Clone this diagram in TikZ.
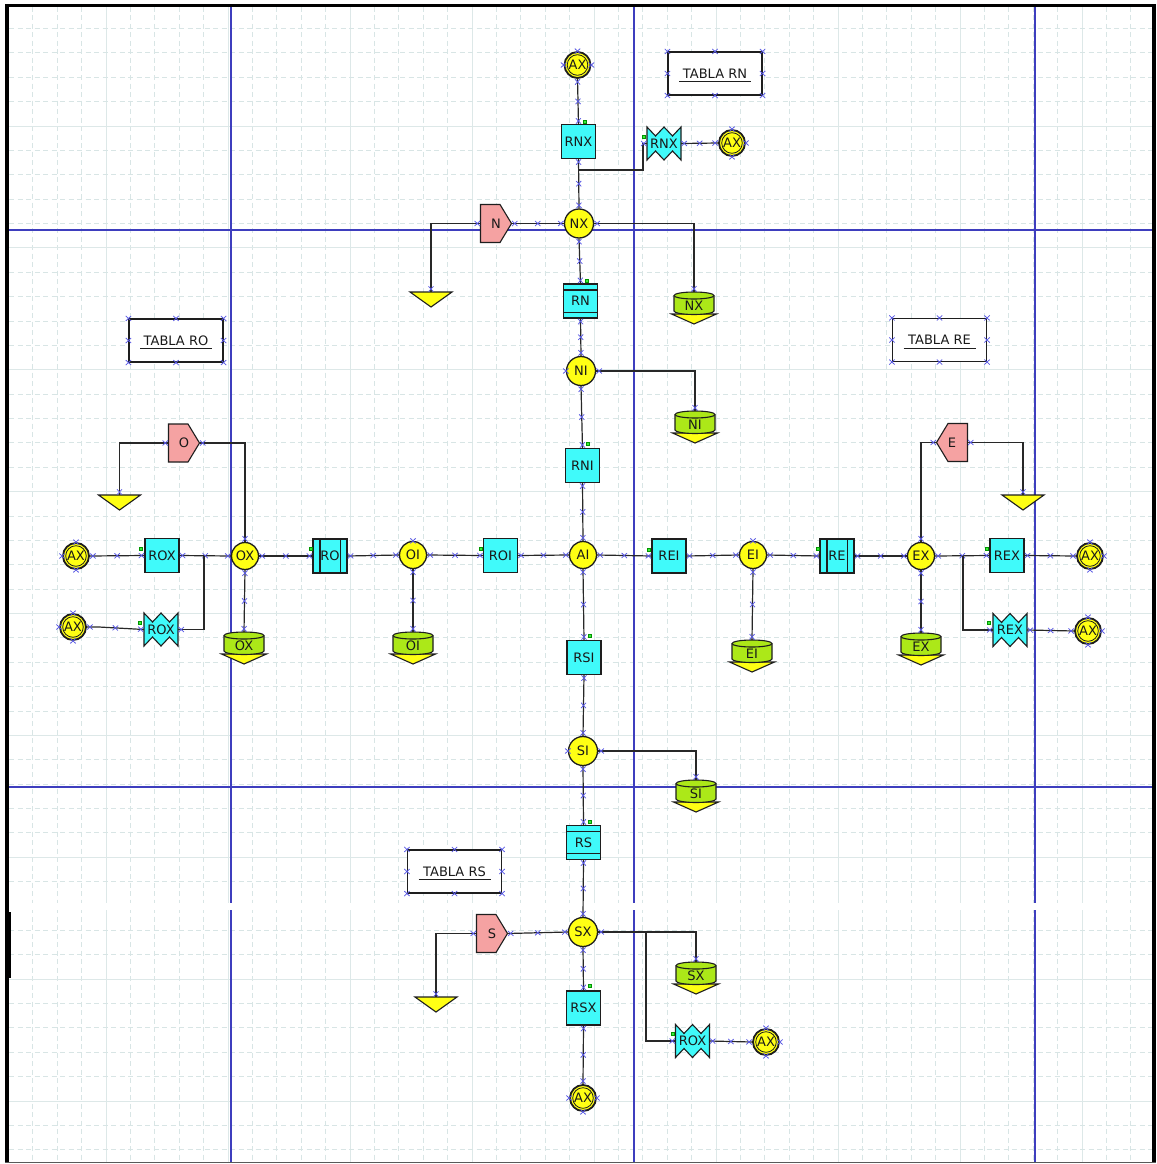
\documentclass[tikz,border=0pt]{standalone}
\usepackage{fontspec}
\setmainfont{DejaVu Sans}
\usetikzlibrary{decorations.markings}

\definecolor{gridc}{RGB}{216,229,229}
\definecolor{gridcs}{RGB}{221,232,232}
\definecolor{axisblue}{RGB}{62,62,190}
\definecolor{wirec}{RGB}{40,40,40}
\definecolor{outl}{RGB}{30,30,30}
\definecolor{txt}{RGB}{25,25,25}
\definecolor{cyn}{RGB}{64,250,250}
\definecolor{yel}{RGB}{255,255,20}
\definecolor{pnk}{RGB}{245,162,162}
\definecolor{grn}{RGB}{172,232,24}
\definecolor{markc}{RGB}{88,88,228}
\definecolor{gmk}{RGB}{0,150,0}
\definecolor{gmkf}{RGB}{60,235,60}

% small blue port mark
\newcommand\pmk{\draw[pmark] (-2.7,-2.5) -- (2.7,2.5) (-2.7,2.5) -- (2.7,-2.5);}
\newcommand\pmat[1]{\begin{scope}[shift={(#1)}]\pmk\end{scope}}
% small green handle
\newcommand\gdot[1]{\filldraw[draw=gmk, fill=gmkf, line width=0.4pt] (#1) ++(-1.6,-1.6) rectangle ++(3.2,3.2);}

% cyan box with zigzag top and bottom edges
\newcommand\bowbox[3]{%
  \begin{scope}[shift={#2}]
    \filldraw[shapeline, fill=cyn] (-17,-16.5) -- (-8.5,-7.5) -- (0,-16.5) -- (8.5,-7.5) -- (17,-16.5)
      -- (17,16.5) -- (8.5,7.5) -- (0,16.5) -- (-8.5,7.5) -- (-17,16.5) -- cycle;
    \node[lbl, minimum width=34pt, minimum height=33pt] (#1) at (0,0) {#3};
  \end{scope}}
% pink pentagon pointing right / left
\newcommand\pentright[3]{%
  \begin{scope}[shift={#2}]
    \filldraw[shapeline, fill=pnk] (-15.5,-19) -- (4,-19) -- (15.5,0) -- (4,19) -- (-15.5,19) -- cycle;
    \node[lbl, minimum width=31pt, minimum height=38pt] (#1) at (0,0) {#3};
  \end{scope}}
\newcommand\pentleft[3]{%
  \begin{scope}[shift={#2}]
    \filldraw[shapeline, fill=pnk] (15.5,-19) -- (-4,-19) -- (-15.5,0) -- (-4,19) -- (15.5,19) -- cycle;
    \node[lbl, minimum width=31pt, minimum height=38pt] (#1) at (0,0) {#3};
  \end{scope}}
% yellow sink triangle, named at its top edge
\newcommand\sinkshape[2]{%
  \begin{scope}[shift={#2}]
    \filldraw[shapeline, fill=yel] (-21,0) -- (21,0) -- (0,15) -- cycle;
    \coordinate (#1) at (0,0);
  \end{scope}}
% green data store with a yellow arrow below
\newcommand\storeshape[3]{%
  \begin{scope}[shift={#2}]
    \filldraw[shapeline, fill=yel] (-22.5,22) -- (22.5,22) -- (0,32) -- cycle;
    \filldraw[shapeline, fill=grn] (-20,3.5) -- (-20,19)
      arc[start angle=180, end angle=0, x radius=20, y radius=3.5] -- (20,3.5)
      arc[start angle=0, end angle=-180, x radius=20, y radius=3.5] -- cycle;
    \draw[shapeline] (-20,3.5) arc[start angle=180, end angle=0, x radius=20, y radius=3.5];
    \node[lbl, minimum width=40pt, minimum height=28pt] (#1) at (0,14) {#3};
  \end{scope}}

\tikzset{
  gridsolid/.style={draw=gridcs, line width=1pt},
  griddash/.style={draw=gridc, line width=0.9pt, dash pattern=on 5pt off 3.5pt},
  axisline/.style={draw=axisblue, line width=1.4pt},
  wire/.style={draw=wirec, line width=1.2pt},
  shapeline/.style={draw=outl, line width=1.1pt, line join=miter},
  ent/.style={circle, draw=outl, line width=1.3pt, fill=yel, inner sep=0pt, text=txt},
  axent/.style={ent, minimum size=26pt, line width=1.8pt},
  proc/.style={rectangle, draw=outl, line width=1.1pt, fill=cyn, inner sep=0pt,
    minimum width=34pt, minimum height=34pt, text=txt},
  lbl/.style={inner sep=0pt, text=txt},
  tabla/.style={rectangle, draw=outl, line width=1.1pt, fill=white, inner sep=0pt,
    minimum width=94pt, minimum height=43pt, text=txt},
  pmark/.style={draw=markc, line width=0.75pt},
  mstart/.style={postaction={decorate, decoration={markings, mark=at position 3pt with {\pmk}}}},
  mmid/.style={postaction={decorate, decoration={markings, mark=at position 0.5 with {\pmk}}}},
  mend/.style={postaction={decorate, decoration={markings, mark=at position -3pt with {\pmk}}}},
  flow/.style={wire, mstart, mmid, mend},
  elbow/.style={wire, mstart, mend},
}

\begin{document}
\begin{tikzpicture}[x=1pt, y=-1pt, font=\fontsize{13}{15}\selectfont]
\useasboundingbox (0,0) rectangle (1156,1164);
\fill[white] (0,0) rectangle (1156,1164);

% background grid: dashed minor lines, solid every fifth
\foreach \i in {-3,...,42}{
  \pgfmathsetmacro\gx{106+24.4*\i}
  \pgfmathtruncatemacro\gm{mod(\i+10,5)}
  \ifnum\gm=0 \draw[gridsolid] (\gx,7) -- (\gx,1162);
  \else \draw[griddash] (\gx,7) -- (\gx,1162); \fi
}
\foreach \j in {-4,...,42}{
  \pgfmathsetmacro\gy{126+24.375*\j}
  \pgfmathtruncatemacro\gm{mod(\j+10,5)}
  \ifnum\gm=0 \draw[gridsolid] (9,\gy) -- (1152,\gy);
  \else \draw[griddash] (9,\gy) -- (1152,\gy); \fi
}

% page division lines
\draw[axisline] (231,7) -- (231,1162) (634,7) -- (634,1162) (1035,7) -- (1035,1162)
  (9,230) -- (1152,230) (9,787) -- (1152,787);
\fill[white] (9,903) rectangle (1152,910);

% frame
\fill[black] (5,4) rectangle (1156,7.5);
\fill[black] (5,4) rectangle (9,1163);
\fill[black] (5,912) rectangle (11,978);
\fill[black] (1152,4) rectangle (1156,1163);
\fill[black!65] (5,1161.6) rectangle (1156,1163.2);

% tables
\node[tabla] (tRN) at (715,73.5) {TABLA RN};
\node[tabla] (tRO) at (176,340.5) {TABLA RO};
\node[tabla] (tRE) at (939.5,340) {TABLA RE};
\node[tabla] (tRS) at (454.5,871.5) {TABLA RS};
\foreach \t in {tRN,tRO,tRE,tRS}{
  \draw[draw=outl, line width=1.1pt] ([xshift=-36pt,yshift=-3.5pt]\t.base) -- ([xshift=36pt,yshift=-3.5pt]\t.base);
  \foreach \a in {north west,north,north east,east,south east,south,south west,west}{\pmat{\t.\a}}
}

% entities
\node[axent] (axN)  at (577.5,65) {AX};
\node[axent] (axNR) at (732,143) {AX};
\node[axent] (axW1) at (76,556) {AX};
\node[axent] (axW2) at (73,627) {AX};
\node[axent] (axE1) at (1090,556) {AX};
\node[axent] (axE2) at (1088,631) {AX};
\node[axent] (axSR) at (766,1042) {AX};
\node[axent] (axS)  at (583,1098) {AX};
\foreach \c in {axN,axNR,axW1,axW2,axE1,axE2,axSR,axS}{
  \draw[draw=outl, line width=0.8pt] (\c.center) circle[radius=10.3];
}
\node[ent, minimum size=29pt] (nx) at (579,223.5) {NX};
\node[ent, minimum size=29pt] (ni) at (581,371) {NI};
\node[ent, minimum size=27pt] (ai) at (583,555) {AI};
\node[ent, minimum size=29pt] (si) at (583,751) {SI};
\node[ent, minimum size=29pt] (sx) at (583,932) {SX};
\node[ent, minimum size=27pt] (ox) at (245,556) {OX};
\node[ent, minimum size=27pt] (oi) at (413,555) {OI};
\node[ent, minimum size=27pt] (ei) at (753,555) {EI};
\node[ent, minimum size=27pt] (ex) at (921,556) {EX};

% processes
\node[proc] (rnx) at (578.5,141.5) {RNX};
\node[proc] (rn)  at (580.5,301) {RN};
\node[proc] (rni) at (582.5,465.5) {RNI};
\node[proc] (rsi) at (584,657.5) {RSI};
\node[proc] (rs)  at (583.5,842.5) {RS};
\node[proc] (rsx) at (583.5,1008) {RSX};
\node[proc] (rox) at (162,555.5) {ROX};
\node[proc] (ro)  at (330,556) {RO};
\node[proc] (roi) at (500.5,555.5) {ROI};
\node[proc] (rei) at (669,556) {REI};
\node[proc] (re)  at (837,556) {RE};
\node[proc] (rex) at (1007,555.5) {REX};
\foreach \b in {rn,rs}{
  \draw[shapeline] ([yshift=-6.5pt]\b.north west) -- ([yshift=-6.5pt]\b.north east)
    ([yshift=6.5pt]\b.south west) -- ([yshift=6.5pt]\b.south east);
}
\foreach \b in {ro,re}{
  \draw[shapeline] ([xshift=7.5pt]\b.north west) -- ([xshift=7.5pt]\b.south west)
    ([xshift=-7.5pt]\b.north east) -- ([xshift=-7.5pt]\b.south east);
}

\bowbox{bRNX}{(664,143.5)}{RNX}
\bowbox{bROXw}{(161,629.5)}{ROX}
\bowbox{bREX}{(1010,630)}{REX}
\bowbox{bROXs}{(692.5,1041)}{ROX}

\pentright{pN}{(496,223.5)}{N}
\pentright{pO}{(184,443)}{O}
\pentright{pS}{(492,933.5)}{S}
\pentleft{pE}{(952,442.5)}{E}

\sinkshape{kN}{(431,292)}
\sinkshape{kO}{(119.5,495)}
\sinkshape{kS}{(436,997)}
\sinkshape{kE}{(1023,495)}

\storeshape{dNX}{(694,292)}{NX}
\storeshape{dNI}{(695,411)}{NI}
\storeshape{dOX}{(244,632)}{OX}
\storeshape{dOI}{(413,632)}{OI}
\storeshape{dEI}{(752,640)}{EI}
\storeshape{dEX}{(921,633)}{EX}
\storeshape{dSI}{(696,780)}{SI}
\storeshape{dSX}{(696,962)}{SX}

% green handles
\gdot{585,122} \gdot{587,281} \gdot{588,444} \gdot{590,636} \gdot{590,822} \gdot{590,986}
\gdot{644,137} \gdot{141,549} \gdot{140,623} \gdot{311,549} \gdot{481,549} \gdot{649,550}
\gdot{818,549} \gdot{987,549} \gdot{989,623} \gdot{673,1034}

% junction points
\coordinate (jN) at (578.5,170);
\coordinate (jW) at (204,556);
\coordinate (jE) at (963,556);
\coordinate (jS) at (646,932);

% north branch
\draw[flow] (axN.south) -- (rnx.north);
\draw[flow] (rnx.south) -- (nx.north);
\draw[wire, mend] (jN) -- ++(64.5,0) |- (bRNX.west);
\draw[flow] (bRNX.east) -- (axNR.west);
\draw[flow] (pN.east) -- (nx.west);
\draw[elbow] (pN.west) -| (kN);
\draw[elbow] (nx.east) -| (dNX.north);
\draw[flow] (nx.south) -- (rn.north);
\draw[flow] (rn.south) -- (ni.north);
\draw[elbow] (ni.east) -| (dNI.north);
\draw[flow] (ni.south) -- (rni.north);
\draw[flow] (rni.south) -- (ai.north);

% south branch
\draw[flow] (ai.south) -- (rsi.north);
\draw[flow] (rsi.south) -- (si.north);
\draw[elbow] (si.east) -| (dSI.north);
\draw[flow] (si.south) -- (rs.north);
\draw[flow] (rs.south) -- (sx.north);
\draw[flow] (pS.east) -- (sx.west);
\draw[elbow] (pS.west) -| (kS);
\draw[elbow] (sx.east) -| (dSX.north);
\draw[wire, mend] (jS) |- (bROXs.west);
\draw[flow] (bROXs.east) -- (axSR.west);
\draw[flow] (sx.south) -- (rsx.north);
\draw[flow] (rsx.south) -- (axS.north);

% west branch
\draw[flow] (axW1.east) -- (rox.west);
\draw[flow] (rox.east) -- (ox.west);
\draw[wire, mstart] (bROXw.east) -| (jW);
\draw[flow] (axW2.east) -- ++(12,0) -- (bROXw.west);
\draw[elbow] (pO.east) -| (ox.north);
\draw[elbow] (pO.west) -| (kO);
\draw[flow] (ox.south) -- (dOX.north);
\draw[flow] (ox.east) -- (ro.west);
\draw[flow] (ro.east) -- (oi.west);
\draw[flow] (oi.south) -- (dOI.north);
\draw[flow] (oi.east) -- (roi.west);
\draw[flow] (roi.east) -- (ai.west);

% east branch
\draw[flow] (ai.east) -- (rei.west);
\draw[flow] (rei.east) -- (ei.west);
\draw[flow] (ei.south) -- (dEI.north);
\draw[flow] (ei.east) -- (re.west);
\draw[flow] (re.east) -- (ex.west);
\draw[elbow] (ex.north) |- (pE.west);
\draw[elbow] (pE.east) -| (kE);
\draw[flow] (ex.south) -- (dEX.north);
\draw[flow] (ex.east) -- (rex.west);
\draw[wire, mend] (jE) |- (bREX.west);
\draw[flow] (rex.east) -- (axE1.west);
\draw[flow] (bREX.east) -- (axE2.west);

% marks on free sides of entities
\foreach \a in {north,west,east}{\pmat{axN.\a}}
\foreach \a in {north,south,east}{\pmat{axNR.\a} \pmat{axE1.\a} \pmat{axE2.\a} \pmat{axSR.\a}}
\foreach \a in {north,south,west}{\pmat{axW1.\a} \pmat{axW2.\a}}
\foreach \a in {west,east,south}{\pmat{axS.\a}}
\pmat{ni.west} \pmat{ei.north} \pmat{oi.north} \pmat{si.west}
\end{tikzpicture}
\end{document}
